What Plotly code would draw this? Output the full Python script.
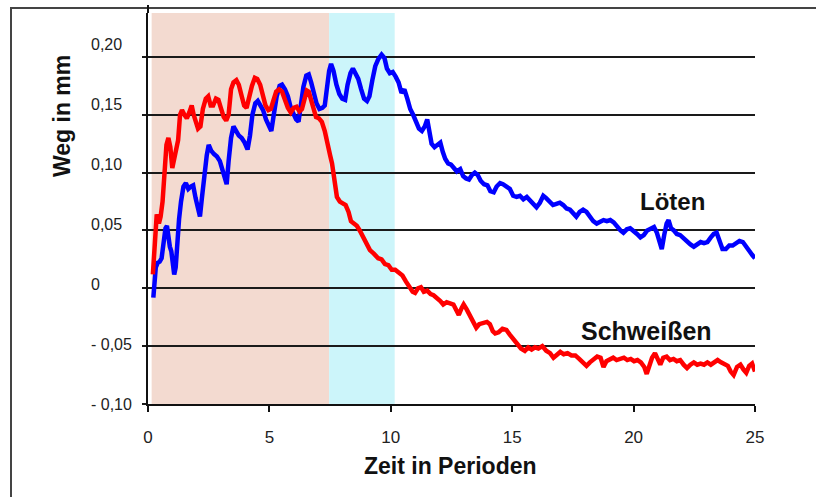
import plotly.graph_objects as go

# ---------------- data ----------------
red_t = [0.20, 0.25, 0.30, 0.36, 0.45, 0.52, 0.60, 0.68, 0.76, 0.84, 0.92, 1.00, 1.06, 1.14, 1.24, 1.32, 1.40, 1.50, 1.60, 1.70,
         1.80, 1.88, 1.96, 2.06, 2.16, 2.26, 2.38, 2.48, 2.58, 2.68, 2.80, 2.90, 3.00, 3.12, 3.22, 3.32, 3.42, 3.52, 3.64, 3.74,
         3.86, 3.96, 4.06, 4.16, 4.28, 4.40, 4.50, 4.62, 4.72, 4.84, 4.96, 5.06, 5.16, 5.28, 5.40, 5.52, 5.64, 5.76, 5.88, 6.00,
         6.12, 6.24, 6.34, 6.44, 6.54, 6.62, 6.72, 6.82, 6.92, 7.04, 7.16, 7.28, 7.40, 7.50, 7.58, 7.64, 7.70, 7.78, 7.90, 8.02,
         8.14, 8.26, 8.36, 8.48, 8.60, 8.72, 8.86, 9.00, 9.14, 9.30, 9.48, 9.62, 9.76, 9.90, 10.04, 10.18, 10.32, 10.48, 10.62, 10.76,
         10.90, 11.00, 11.12, 11.24, 11.36, 11.50, 11.64, 11.76, 11.90, 12.04, 12.16, 12.30, 12.44, 12.58, 12.70, 12.80, 12.92, 13.00, 13.12, 13.26,
         13.40, 13.52, 13.64, 13.80, 13.96, 14.08, 14.20, 14.30, 14.44, 14.60, 14.76, 14.90, 15.04, 15.20, 15.36, 15.52, 15.66, 15.80, 15.94, 16.08,
         16.24, 16.40, 16.56, 16.70, 16.84, 16.98, 17.12, 17.28, 17.44, 17.60, 17.76, 17.92, 18.06, 18.20, 18.36, 18.50, 18.64, 18.76, 18.88, 19.02,
         19.16, 19.30, 19.46, 19.60, 19.74, 19.88, 20.02, 20.16, 20.30, 20.44, 20.54, 20.64, 20.76, 20.88, 21.00, 21.10, 21.22, 21.36, 21.50, 21.64,
         21.78, 21.92, 22.06, 22.20, 22.34, 22.48, 22.62, 22.76, 22.90, 23.04, 23.18, 23.32, 23.46, 23.60, 23.74, 23.88, 24.00, 24.12, 24.26, 24.40,
         24.52, 24.64, 24.76, 24.88, 25.00]
red_v = [0.012, 0.030, 0.050, 0.064, 0.056, 0.062, 0.075, 0.100, 0.124, 0.130, 0.122, 0.104, 0.110, 0.122, 0.128, 0.150, 0.154, 0.150, 0.147, 0.152,
         0.158, 0.150, 0.144, 0.138, 0.140, 0.155, 0.164, 0.166, 0.158, 0.158, 0.164, 0.163, 0.156, 0.148, 0.145, 0.150, 0.172, 0.178, 0.180, 0.176,
         0.166, 0.158, 0.156, 0.165, 0.175, 0.182, 0.181, 0.176, 0.168, 0.158, 0.154, 0.155, 0.162, 0.170, 0.172, 0.170, 0.163, 0.156, 0.152, 0.156,
         0.157, 0.153, 0.155, 0.165, 0.171, 0.170, 0.162, 0.154, 0.148, 0.147, 0.144, 0.136, 0.122, 0.115, 0.108, 0.098, 0.088, 0.079, 0.075, 0.073,
         0.072, 0.066, 0.058, 0.056, 0.054, 0.050, 0.044, 0.038, 0.033, 0.030, 0.026, 0.025, 0.021, 0.020, 0.016, 0.016, 0.014, 0.011, 0.006, 0.002,
         -0.003, -0.004, 0.000, 0.001, -0.003, -0.002, -0.005, -0.006, -0.008, -0.011, -0.014, -0.012, -0.013, -0.014, -0.019, -0.023, -0.017, -0.014, -0.018, -0.024,
         -0.030, -0.034, -0.031, -0.030, -0.029, -0.031, -0.037, -0.039, -0.038, -0.035, -0.036, -0.040, -0.044, -0.048, -0.052, -0.054, -0.051, -0.053, -0.051, -0.052,
         -0.050, -0.054, -0.056, -0.060, -0.057, -0.055, -0.057, -0.056, -0.058, -0.058, -0.061, -0.064, -0.067, -0.064, -0.061, -0.059, -0.060, -0.068, -0.063, -0.061,
         -0.060, -0.062, -0.061, -0.060, -0.062, -0.061, -0.063, -0.062, -0.064, -0.068, -0.074, -0.066, -0.060, -0.056, -0.062, -0.066, -0.060, -0.059, -0.062, -0.061,
         -0.063, -0.062, -0.066, -0.069, -0.066, -0.064, -0.066, -0.065, -0.066, -0.064, -0.066, -0.064, -0.062, -0.064, -0.066, -0.067, -0.072, -0.075, -0.068, -0.066,
         -0.070, -0.073, -0.067, -0.065, -0.072]

blue_t = [0.22, 0.26, 0.32, 0.40, 0.48, 0.56, 0.64, 0.72, 0.78, 0.84, 0.90, 0.96, 1.02, 1.08, 1.14, 1.20, 1.28, 1.36, 1.46, 1.56,
          1.66, 1.76, 1.86, 1.96, 2.06, 2.14, 2.22, 2.32, 2.42, 2.50, 2.60, 2.72, 2.84, 2.96, 3.06, 3.16, 3.24, 3.32, 3.42, 3.52,
          3.62, 3.74, 3.86, 3.98, 4.10, 4.20, 4.30, 4.42, 4.52, 4.62, 4.74, 4.86, 4.98, 5.08, 5.18, 5.30, 5.42, 5.52, 5.64, 5.76,
          5.88, 6.00, 6.10, 6.20, 6.30, 6.40, 6.52, 6.62, 6.72, 6.82, 6.94, 7.06, 7.18, 7.28, 7.36, 7.46, 7.54, 7.64, 7.76, 7.88,
          8.00, 8.12, 8.22, 8.34, 8.44, 8.56, 8.66, 8.78, 8.90, 9.02, 9.12, 9.24, 9.36, 9.48, 9.62, 9.74, 9.84, 9.96, 10.08, 10.20,
          10.32, 10.44, 10.56, 10.68, 10.80, 10.92, 11.04, 11.16, 11.28, 11.40, 11.50, 11.58, 11.68, 11.80, 11.92, 12.04, 12.14, 12.24, 12.36, 12.48,
          12.60, 12.72, 12.86, 12.98, 13.10, 13.22, 13.34, 13.46, 13.58, 13.70, 13.84, 13.98, 14.10, 14.24, 14.36, 14.50, 14.62, 14.76, 14.90, 15.04,
          15.18, 15.32, 15.46, 15.60, 15.74, 15.88, 16.00, 16.14, 16.28, 16.40, 16.54, 16.68, 16.82, 16.96, 17.10, 17.24, 17.38, 17.52, 17.64, 17.78,
          17.92, 18.06, 18.20, 18.34, 18.48, 18.62, 18.76, 18.90, 19.04, 19.18, 19.32, 19.46, 19.58, 19.72, 19.86, 20.00, 20.14, 20.28, 20.42, 20.56,
          20.70, 20.84, 20.96, 21.06, 21.16, 21.26, 21.36, 21.44, 21.54, 21.66, 21.78, 21.92, 22.06, 22.20, 22.34, 22.48, 22.62, 22.76, 22.90, 23.04,
          23.18, 23.30, 23.42, 23.54, 23.66, 23.80, 23.94, 24.08, 24.22, 24.36, 24.50, 24.62, 24.74, 24.88, 25.00]
blue_v = [-0.008, 0.005, 0.018, 0.022, 0.023, 0.026, 0.040, 0.052, 0.054, 0.044, 0.036, 0.032, 0.020, 0.012, 0.018, 0.040, 0.060, 0.075, 0.088, 0.091,
          0.086, 0.088, 0.089, 0.078, 0.066, 0.062, 0.078, 0.098, 0.115, 0.124, 0.119, 0.116, 0.114, 0.110, 0.102, 0.094, 0.090, 0.110, 0.130, 0.140,
          0.136, 0.132, 0.130, 0.126, 0.120, 0.132, 0.150, 0.160, 0.162, 0.158, 0.154, 0.146, 0.140, 0.136, 0.150, 0.166, 0.175, 0.176, 0.172, 0.166,
          0.156, 0.150, 0.146, 0.144, 0.160, 0.174, 0.184, 0.185, 0.178, 0.170, 0.160, 0.155, 0.156, 0.158, 0.172, 0.188, 0.194, 0.188, 0.176, 0.168,
          0.164, 0.163, 0.176, 0.186, 0.190, 0.186, 0.181, 0.172, 0.164, 0.162, 0.166, 0.180, 0.192, 0.198, 0.202, 0.199, 0.190, 0.186, 0.187, 0.183,
          0.178, 0.169, 0.172, 0.164, 0.155, 0.150, 0.145, 0.138, 0.136, 0.140, 0.146, 0.138, 0.125, 0.122, 0.124, 0.126, 0.118, 0.112, 0.108, 0.107,
          0.104, 0.101, 0.103, 0.097, 0.095, 0.094, 0.098, 0.100, 0.098, 0.093, 0.090, 0.089, 0.084, 0.083, 0.088, 0.091, 0.090, 0.088, 0.086, 0.080,
          0.079, 0.080, 0.077, 0.079, 0.076, 0.072, 0.070, 0.074, 0.080, 0.078, 0.075, 0.072, 0.073, 0.074, 0.072, 0.069, 0.068, 0.064, 0.062, 0.066,
          0.068, 0.066, 0.062, 0.058, 0.056, 0.057, 0.059, 0.058, 0.059, 0.057, 0.053, 0.050, 0.048, 0.051, 0.052, 0.050, 0.047, 0.044, 0.046, 0.050,
          0.052, 0.053, 0.048, 0.040, 0.034, 0.046, 0.056, 0.059, 0.052, 0.050, 0.047, 0.046, 0.043, 0.041, 0.038, 0.036, 0.038, 0.040, 0.039, 0.040,
          0.044, 0.047, 0.048, 0.040, 0.034, 0.034, 0.037, 0.037, 0.039, 0.041, 0.040, 0.036, 0.032, 0.029, 0.026]

phase_start = [0.15, 7.46]
phase_end = [7.46, 10.16]
phase_colors = ["#F3DAD0", "#CCF5FA"]

y_ticks = [0.20, 0.15, 0.10, 0.05, 0.0, -0.05, -0.10]
y_tick_labels = ["0,20", "0,15", "0,10", "0,05", "0", "- 0,05", "- 0,10"]
x_ticks = [0, 5, 10, 15, 20, 25]
x_tick_labels = ["0", "5", "10", "15", "20", "25"]

series_labels = ["Löten", "Schweißen"]
label_x = [21.6, 20.55]
label_y = [0.075, -0.037]

x_title = "Zeit in Perioden"
y_title = "Weg in mm"

# ---------------- figure ----------------
FONT = "Liberation Sans, Arial, sans-serif"
W, H = 816, 497
ML, MR, MT, MB = 148, 61, 13, 93
PW, PH = W - ML - MR, H - MT - MB

fig = go.Figure()
fig.add_trace(go.Scatter(x=blue_t, y=blue_v, mode="lines",
                         line=dict(color="#0000FF", width=4.5), name=series_labels[0]))
fig.add_trace(go.Scatter(x=red_t, y=red_v, mode="lines",
                         line=dict(color="#FF0000", width=4.5), name=series_labels[1]))

shapes = []
for x0, x1, c in zip(phase_start, phase_end, phase_colors):
    shapes.append(dict(type="rect", xref="x", yref="paper", x0=x0, x1=x1, y0=0, y1=1,
                       fillcolor=c, line=dict(width=0), layer="below"))
# outer frame of the original graphic
shapes.append(dict(type="rect", xref="paper", yref="paper",
                   x0=(11 - ML) / PW, x1=2.0, y0=-0.6, y1=1 + (MT - 8) / PH,
                   line=dict(color="#444444", width=2), fillcolor="rgba(0,0,0,0)", layer="above"))
# y axis line reaching the frame
shapes.append(dict(type="line", xref="paper", yref="paper", x0=0, x1=0, y0=1, y1=1 + (MT - 5) / PH,
                   line=dict(color="#111111", width=2)))

annotations = []
for v, lab in zip(y_ticks, y_tick_labels):
    annotations.append(dict(x=(89 - ML) / PW, xref="paper", y=v, yref="y", text=lab, showarrow=False,
                            xanchor="left", yanchor="middle", yshift=40 * (v + 0.10),
                            font=dict(family=FONT, size=16, color="#222222")))
for t, xx, yy, fs in zip(series_labels, label_x, label_y, [24, 25]):
    annotations.append(dict(x=xx, y=yy, xref="x", yref="y", text="<b>%s</b>" % t, showarrow=False,
                            xanchor="center", yanchor="middle",
                            font=dict(family=FONT, size=fs, color="#111111")))
annotations.append(dict(x=(450 - ML) / PW, y=1 - (466 - MT) / PH, xref="paper", yref="paper",
                        text="<b>%s</b>" % x_title, showarrow=False, xanchor="center", yanchor="middle",
                        font=dict(family=FONT, size=23, color="#111111")))
annotations.append(dict(x=(62 - ML) / PW, y=1 - (116 - MT) / PH, xref="paper", yref="paper",
                        text="<b>%s</b>" % y_title, showarrow=False, textangle=-90,
                        xanchor="center", yanchor="middle",
                        font=dict(family=FONT, size=23, color="#111111")))

fig.update_layout(
    width=W, height=H,
    margin=dict(l=ML, r=MR, t=MT, b=MB, pad=0),
    paper_bgcolor="white", plot_bgcolor="white",
    showlegend=False,
    shapes=shapes, annotations=annotations,
    xaxis=dict(range=[0, 25], tickvals=x_ticks, ticktext=x_tick_labels,
               showgrid=False, zeroline=False, showline=True, linecolor="#111111", linewidth=2,
               ticks="outside", ticklen=6, tickwidth=1.5, tickcolor="#111111",
               ticklabelstandoff=11,
               tickfont=dict(family=FONT, size=17, color="#222222")),
    yaxis=dict(range=[-0.10, 0.238], tickvals=y_ticks, showticklabels=False,
               showgrid=True, gridcolor="#1a1a1a", gridwidth=1.5, zeroline=False,
               showline=True, linecolor="#111111", linewidth=2,
               ticks="outside", ticklen=4, tickwidth=1.5, tickcolor="#1a1a1a"),
)

fig.write_html("out.html", config={"displayModeBar": False},
               post_script="document.body.style.margin='0';document.body.style.overflow='hidden';")
